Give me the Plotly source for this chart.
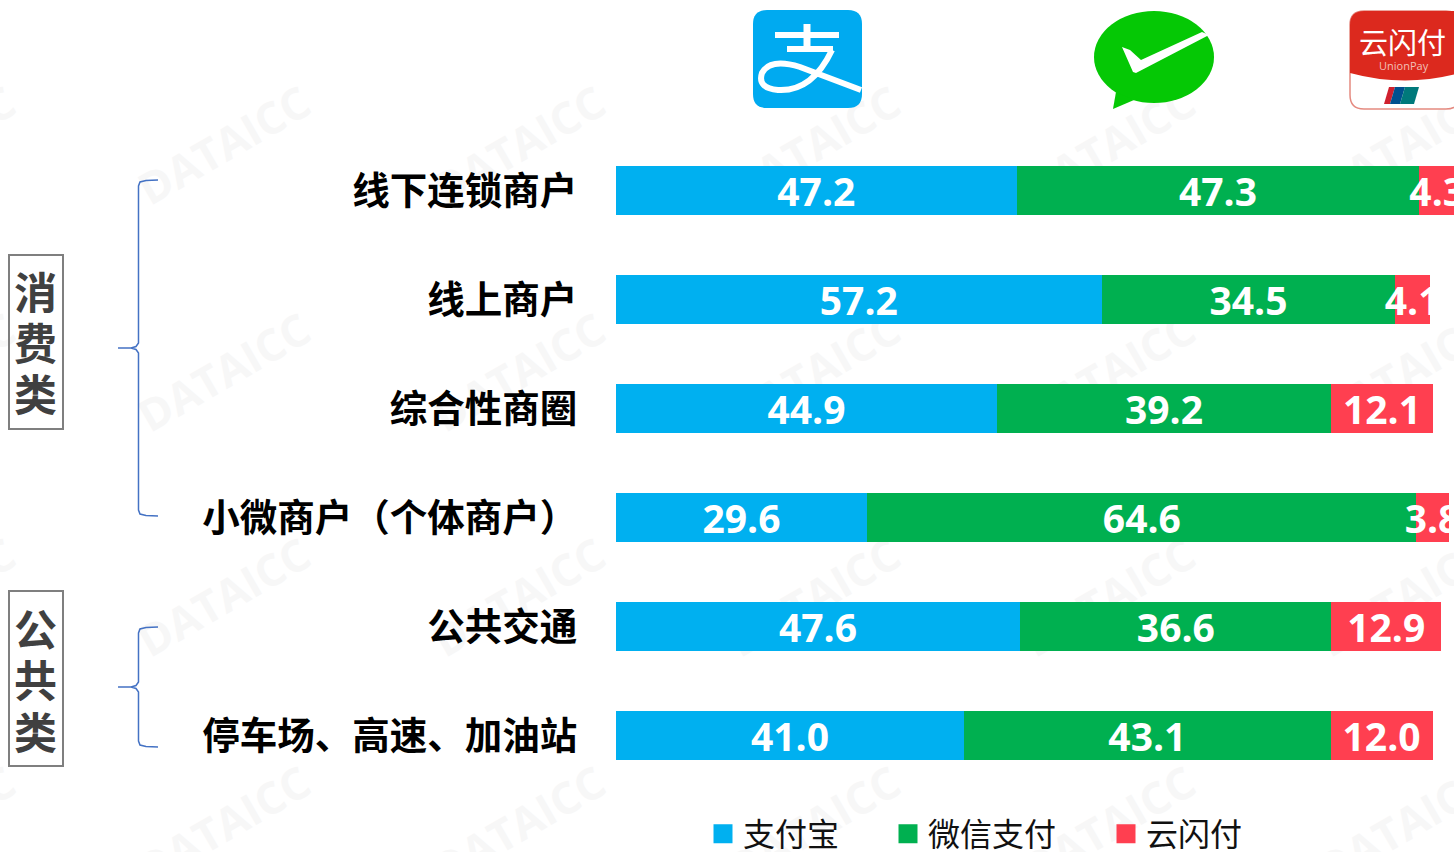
import plotly.graph_objects as go

W, H = 1454, 852

categories = ["线下连锁商户", "线上商户", "综合性商圈", "小微商户（个体商户）", "公共交通", "停车场、高速、加油站"]
alipay = [47.2, 57.2, 44.9, 29.6, 47.6, 41.0]
wechat = [47.3, 34.5, 39.2, 64.6, 36.6, 43.1]
unionpay = [4.3, 4.1, 12.1, 3.8, 12.9, 12.0]
series_names = ["支付宝", "微信支付", "云闪付"]
series_colors = ["#00B0F0", "#00B050", "#FF3F50"]

CJK = "Noto Sans CJK SC"


def px(x):
    return x / W


def py(y):
    return 1 - y / H


def path(points, close=False):
    s = "M" + " L".join(f"{px(a):.5f},{py(b):.5f}" for a, b in points)
    return s + (" Z" if close else "")


fig = go.Figure()
for name, vals, col in zip(series_names, [alipay, wechat, unionpay], series_colors):
    fig.add_trace(go.Bar(
        y=categories, x=vals, name=name, orientation="h",
        marker=dict(color=col, line=dict(width=0)),
        text=[f"{v:.1f}" for v in vals], textposition="inside",
        insidetextanchor="middle", textangle=0, constraintext="none",
        cliponaxis=True,
        textfont=dict(family="Open Sans", size=39, color="white", weight="bold"),
        showlegend=False,
    ))

# legend entries (one legend per entry, so each sits at its own position)
legend_left = [703, 888, 1106]
for i, (name, col) in enumerate(zip(series_names, series_colors)):
    fig.add_trace(go.Scatter(
        x=[None], y=[None], mode="markers", name=name,
        marker=dict(symbol="square", size=16, color=col, line=dict(color=col, width=3)),
        legend="legend" if i == 0 else f"legend{i + 1}",
    ))

shapes = []
annotations = []

# watermark, behind the bars
for wy in [147, 374, 599, 827]:
    for wx in [-70, 225, 520, 815, 1110, 1405]:
        shapes.append(dict(
            type="rect", xref="paper", yref="paper", layer="below",
            x0=px(wx - 100), x1=px(wx + 100), y0=py(wy + 40), y1=py(wy - 40),
            line=dict(width=0), fillcolor="rgba(0,0,0,0)",
            label=dict(text="DATAICC", textangle=-30, textposition="middle center",
                       font=dict(family="Open Sans", size=44, color="#F7F7F7", weight="bold")),
        ))

# group boxes and their stacked labels
for top, bottom, chars, ys in [
    (255, 429, "消费类", [290, 341, 392]),
    (591, 766, "公共类", [627, 678, 730]),
]:
    shapes.append(dict(type="rect", xref="paper", yref="paper",
                       x0=px(9), x1=px(63), y0=py(bottom), y1=py(top),
                       line=dict(color="#7F7F7F", width=2), fillcolor="rgba(0,0,0,0)"))
    for ch, y in zip(chars, ys):
        annotations.append(dict(text=ch, xref="paper", yref="paper", x=px(35.5), y=py(y),
                                showarrow=False, xanchor="center", yanchor="middle",
                                font=dict(family=CJK, size=43, color="#404040", weight="bold")))

# braces
for top, mid, bottom in [(180, 348, 516), (627, 687, 747)]:
    pts = [(158, top), (146, top + 0.5), (140, top + 2), (138.5, top + 6),
           (138.5, mid - 5), (136, mid - 1.5), (131, mid), (118, mid), (131, mid), (136, mid + 1.5), (138.5, mid + 5),
           (138.5, bottom - 6), (140, bottom - 2), (146, bottom - 0.5), (158, bottom)]
    shapes.append(dict(type="path", xref="paper", yref="paper", path=path(pts),
                       line=dict(color="#4472C4", width=1.5)))


def rounded(x0, y0, x1, y1, r):
    return (f"M{px(x0 + r)},{py(y0)} L{px(x1 - r)},{py(y0)} Q{px(x1)},{py(y0)} {px(x1)},{py(y0 + r)} "
            f"L{px(x1)},{py(y1 - r)} Q{px(x1)},{py(y1)} {px(x1 - r)},{py(y1)} "
            f"L{px(x0 + r)},{py(y1)} Q{px(x0)},{py(y1)} {px(x0)},{py(y1 - r)} "
            f"L{px(x0)},{py(y0 + r)} Q{px(x0)},{py(y0)} {px(x0 + r)},{py(y0)} Z")


def pshape(d, fill=None, line=None, lw=0):
    shapes.append(dict(type="path", xref="paper", yref="paper", path=d,
                       fillcolor=fill or "rgba(0,0,0,0)",
                       line=dict(color=line or "rgba(0,0,0,0)", width=lw)))


def label(text, x, y, size, color, weight="normal", family=CJK):
    annotations.append(dict(text=text, xref="paper", yref="paper", x=px(x), y=py(y),
                            showarrow=False, xanchor="center", yanchor="middle",
                            font=dict(family=family, size=size, color=color, weight=weight)))


# Alipay logo
pshape(rounded(753, 10, 862, 108, 14), fill="#00AAF0")
pshape(path([(775, 35), (839, 35)]), line="white", lw=6)
pshape(path([(787, 49), (833, 49)]), line="white", lw=6)
pshape(path([(807, 24), (807, 49)]), line="white", lw=7)
pshape(f"M{px(832)},{py(50)} Q{px(812)},{py(92)} {px(778)},{py(90)} "
       f"Q{px(757)},{py(88)} {px(762)},{py(73)} Q{px(770)},{py(58)} {px(800)},{py(67)} L{px(861)},{py(90)}",
       line="white", lw=6)

# WeChat logo
cx, cy, rx, ry = 1154, 57, 60, 46
shapes.append(dict(type="circle", xref="paper", yref="paper",
                   x0=px(cx - rx), x1=px(cx + rx), y0=py(cy + ry), y1=py(cy - ry),
                   fillcolor="#05C805", line=dict(width=0)))
pshape(path([(1116, 92), (1134, 100), (1113, 109)], close=True), fill="#05C805")
pshape(path([(1122, 47), (1130, 50), (1141, 60), (1202, 32), (1209, 35), (1136, 73), (1133, 72)], close=True), fill="white")

# UnionPay logo
pshape(rounded(1350, 11, 1460, 109, 14), fill="white", line="#E58A80", lw=1.5)
pshape(f"M{px(1350)},{py(73)} L{px(1350)},{py(25)} Q{px(1350)},{py(11)} {px(1364)},{py(11)} "
       f"L{px(1460)},{py(11)} L{px(1460)},{py(73)} Q{px(1405)},{py(88)} {px(1350)},{py(73)} Z", fill="#DC291E")
label("云闪付", 1402, 41, 29, "white")
label("UnionPay", 1404, 65, 11, "#F2C0B8", family="Open Sans")
pshape(path([(1384, 104), (1389, 87), (1395, 87), (1390, 104)], close=True), fill="#D0202E")
pshape(path([(1390, 104), (1395, 87), (1405, 87), (1400, 104)], close=True), fill="#00508F")
pshape(path([(1400, 104), (1405, 87), (1419, 87), (1414, 104)], close=True), fill="#00797B")

legend_common = dict(
    orientation="h", xanchor="left", yanchor="middle", y=py(834),
    bgcolor="rgba(0,0,0,0)", itemclick=False, itemdoubleclick=False,
    font=dict(family=CJK, size=32, color="#111111"),
)

STEP = 109
FIRST = 190.4
fig.update_layout(
    width=W, height=H, autosize=False,
    margin=dict(l=0, r=0, t=0, b=0, autoexpand=False),
    paper_bgcolor="white", plot_bgcolor="white",
    barmode="stack", bargap=1 - 49 / STEP,
    xaxis=dict(domain=[px(615.7), 1], range=[0, (W - 615.7) / 8.5], visible=False, fixedrange=True),
    yaxis=dict(
        type="category", categoryorder="array", categoryarray=categories,
        range=[(H - FIRST) / STEP, -FIRST / STEP],
        showgrid=False, zeroline=False, showline=False, fixedrange=True,
        ticks="outside", ticklen=30, tickcolor="rgba(0,0,0,0)", tickwidth=0,
        tickfont=dict(family=CJK, size=37.5, color="#000000", weight="bold"),
    ),
    legend=dict(x=px(legend_left[0]), **legend_common),
    legend2=dict(x=px(legend_left[1]), **legend_common),
    legend3=dict(x=px(legend_left[2]), **legend_common),
    shapes=shapes, annotations=annotations,
)

fig.write_html("out.html", config=dict(displayModeBar=False),
               post_script="document.body.style.margin='0';document.body.style.overflow='hidden';")
